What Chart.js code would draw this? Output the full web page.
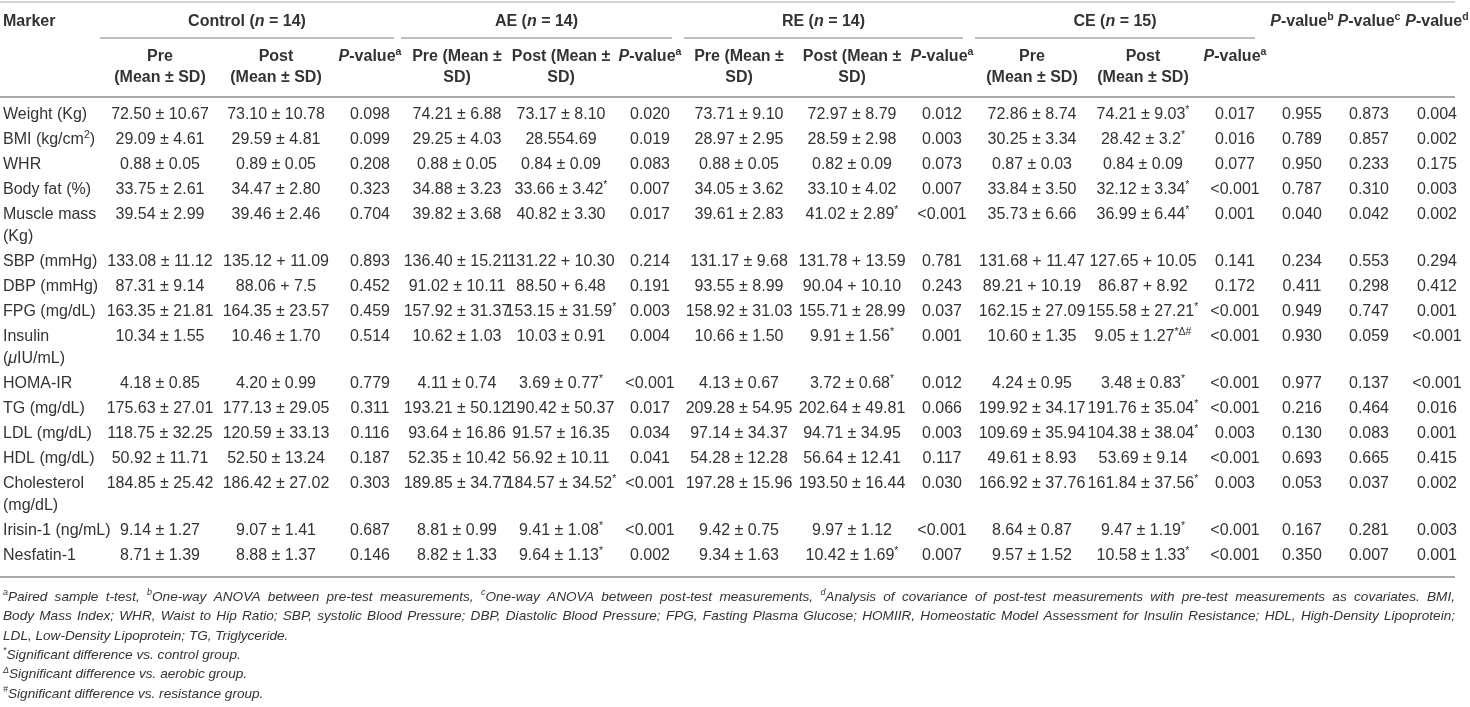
<!DOCTYPE html>
<html>
<head>
<meta charset="utf-8">
<script src="https://cdn.jsdelivr.net/npm/chart.js@4.4.1/dist/chart.umd.min.js"></script>
<style>
  html, body { margin: 0; padding: 0; background: #fff; }
  #wrap { width: 1470px; height: 707px; }
</style>
</head>
<body>
<div id="wrap"><canvas id="tableChart" width="1470" height="707"></canvas></div>
<script>
// ---- table content ----
// "|" breaks a cell into lines, ^{..} is superscript, _{..} is italic
var rowLabels = ['Weight (Kg)', 'BMI (kg/cm^{2})', 'WHR', 'Body fat (%)', 'Muscle mass|(Kg)',
  'SBP (mmHg)', 'DBP (mmHg)', 'FPG (mg/dL)', 'Insulin|(_{\u03bc}IU/mL)', 'HOMA-IR', 'TG (mg/dL)',
  'LDL (mg/dL)', 'HDL (mg/dL)', 'Cholesterol|(mg/dL)', 'Irisin-1 (ng/mL)', 'Nesfatin-1'];

var groupLabels = ['Control (_{n} = 14)', 'AE (_{n} = 14)', 'RE (_{n} = 14)', 'CE (_{n} = 15)'];
var subHeaders = ['Pre|(Mean \u00b1 SD)', 'Post|(Mean \u00b1 SD)', '_{P}-value^{a}',
  'Pre (Mean \u00b1|SD)', 'Post (Mean \u00b1|SD)', '_{P}-value^{a}',
  'Pre (Mean \u00b1|SD)', 'Post (Mean \u00b1|SD)', '_{P}-value^{a}',
  'Pre|(Mean \u00b1 SD)', 'Post|(Mean \u00b1 SD)', '_{P}-value^{a}'];
var testHeaders = ['_{P}-value^{b}', '_{P}-value^{c}', '_{P}-value^{d}'];

var ctrlPre = ['72.50 \u00b1 10.67', '29.09 \u00b1 4.61', '0.88 \u00b1 0.05', '33.75 \u00b1 2.61', '39.54 \u00b1 2.99',
  '133.08 \u00b1 11.12', '87.31 \u00b1 9.14', '163.35 \u00b1 21.81', '10.34 \u00b1 1.55', '4.18 \u00b1 0.85',
  '175.63 \u00b1 27.01', '118.75 \u00b1 32.25', '50.92 \u00b1 11.71', '184.85 \u00b1 25.42', '9.14 \u00b1 1.27', '8.71 \u00b1 1.39'];
var ctrlPost = ['73.10 \u00b1 10.78', '29.59 \u00b1 4.81', '0.89 \u00b1 0.05', '34.47 \u00b1 2.80', '39.46 \u00b1 2.46',
  '135.12 + 11.09', '88.06 + 7.5', '164.35 \u00b1 23.57', '10.46 \u00b1 1.70', '4.20 \u00b1 0.99',
  '177.13 \u00b1 29.05', '120.59 \u00b1 33.13', '52.50 \u00b1 13.24', '186.42 \u00b1 27.02', '9.07 \u00b1 1.41', '8.88 \u00b1 1.37'];
var ctrlP = ['0.098', '0.099', '0.208', '0.323', '0.704', '0.893', '0.452', '0.459', '0.514', '0.779',
  '0.311', '0.116', '0.187', '0.303', '0.687', '0.146'];

var aePre = ['74.21 \u00b1 6.88', '29.25 \u00b1 4.03', '0.88 \u00b1 0.05', '34.88 \u00b1 3.23', '39.82 \u00b1 3.68',
  '136.40 \u00b1 15.21', '91.02 \u00b1 10.11', '157.92 \u00b1 31.37', '10.62 \u00b1 1.03', '4.11 \u00b1 0.74',
  '193.21 \u00b1 50.12', '93.64 \u00b1 16.86', '52.35 \u00b1 10.42', '189.85 \u00b1 34.77', '8.81 \u00b1 0.99', '8.82 \u00b1 1.33'];
var aePost = ['73.17 \u00b1 8.10', '28.554.69', '0.84 \u00b1 0.09', '33.66 \u00b1 3.42*', '40.82 \u00b1 3.30',
  '131.22 + 10.30', '88.50 + 6.48', '153.15 \u00b1 31.59*', '10.03 \u00b1 0.91', '3.69 \u00b1 0.77*',
  '190.42 \u00b1 50.37', '91.57 \u00b1 16.35', '56.92 \u00b1 10.11', '184.57 \u00b1 34.52*', '9.41 \u00b1 1.08*', '9.64 \u00b1 1.13*'];
var aeP = ['0.020', '0.019', '0.083', '0.007', '0.017', '0.214', '0.191', '0.003', '0.004', '<0.001',
  '0.017', '0.034', '0.041', '<0.001', '<0.001', '0.002'];

var rePre = ['73.71 \u00b1 9.10', '28.97 \u00b1 2.95', '0.88 \u00b1 0.05', '34.05 \u00b1 3.62', '39.61 \u00b1 2.83',
  '131.17 \u00b1 9.68', '93.55 \u00b1 8.99', '158.92 \u00b1 31.03', '10.66 \u00b1 1.50', '4.13 \u00b1 0.67',
  '209.28 \u00b1 54.95', '97.14 \u00b1 34.37', '54.28 \u00b1 12.28', '197.28 \u00b1 15.96', '9.42 \u00b1 0.75', '9.34 \u00b1 1.63'];
var rePost = ['72.97 \u00b1 8.79', '28.59 \u00b1 2.98', '0.82 \u00b1 0.09', '33.10 \u00b1 4.02', '41.02 \u00b1 2.89*',
  '131.78 + 13.59', '90.04 + 10.10', '155.71 \u00b1 28.99', '9.91 \u00b1 1.56*', '3.72 \u00b1 0.68*',
  '202.64 \u00b1 49.81', '94.71 \u00b1 34.95', '56.64 \u00b1 12.41', '193.50 \u00b1 16.44', '9.97 \u00b1 1.12', '10.42 \u00b1 1.69*'];
var reP = ['0.012', '0.003', '0.073', '0.007', '<0.001', '0.781', '0.243', '0.037', '0.001', '0.012',
  '0.066', '0.003', '0.117', '0.030', '<0.001', '0.007'];

var cePre = ['72.86 \u00b1 8.74', '30.25 \u00b1 3.34', '0.87 \u00b1 0.03', '33.84 \u00b1 3.50', '35.73 \u00b1 6.66',
  '131.68 + 11.47', '89.21 + 10.19', '162.15 \u00b1 27.09', '10.60 \u00b1 1.35', '4.24 \u00b1 0.95',
  '199.92 \u00b1 34.17', '109.69 \u00b1 35.94', '49.61 \u00b1 8.93', '166.92 \u00b1 37.76', '8.64 \u00b1 0.87', '9.57 \u00b1 1.52'];
var cePost = ['74.21 \u00b1 9.03*', '28.42 \u00b1 3.2*', '0.84 \u00b1 0.09', '32.12 \u00b1 3.34*', '36.99 \u00b1 6.44*',
  '127.65 + 10.05', '86.87 + 8.92', '155.58 \u00b1 27.21*', '9.05 \u00b1 1.27*\u0394#', '3.48 \u00b1 0.83*',
  '191.76 \u00b1 35.04*', '104.38 \u00b1 38.04*', '53.69 \u00b1 9.14', '161.84 \u00b1 37.56*', '9.47 \u00b1 1.19*', '10.58 \u00b1 1.33*'];
var ceP = ['0.017', '0.016', '0.077', '<0.001', '0.001', '0.141', '0.172', '<0.001', '<0.001', '<0.001',
  '<0.001', '0.003', '<0.001', '0.003', '<0.001', '<0.001'];

var pPre = ['0.955', '0.789', '0.950', '0.787', '0.040', '0.234', '0.411', '0.949', '0.930', '0.977',
  '0.216', '0.130', '0.693', '0.053', '0.167', '0.350'];
var pPost = ['0.873', '0.857', '0.233', '0.310', '0.042', '0.553', '0.298', '0.747', '0.059', '0.137',
  '0.464', '0.083', '0.665', '0.037', '0.281', '0.007'];
var pAncova = ['0.004', '0.002', '0.175', '0.003', '0.002', '0.294', '0.412', '0.001', '<0.001', '<0.001',
  '0.016', '0.001', '0.415', '0.002', '0.003', '0.001'];

var footnotes = [
  '^{a}Paired sample t-test, ^{b}One-way ANOVA between pre-test measurements, ^{c}One-way ANOVA between post-test measurements, ^{d}Analysis of covariance of post-test measurements with pre-test measurements as covariates. BMI,',
  'Body Mass Index; WHR, Waist to Hip Ratio; SBP, systolic Blood Pressure; DBP, Diastolic Blood Pressure; FPG, Fasting Plasma Glucose; HOMIIR, Homeostatic Model Assessment for Insulin Resistance; HDL, High-Density Lipoprotein;',
  'LDL, Low-Density Lipoprotein; TG, Triglyceride.',
  '^{*}Significant difference vs. control group.',
  '^{\u0394}Significant difference vs. aerobic group.',
  '^{#}Significant difference vs. resistance group.'
];

var columns = [ctrlPre, ctrlPost, ctrlP, aePre, aePost, aeP, rePre, rePost, reP, cePre, cePost, ceP, pPre, pPost, pAncova];

// ---- layout (pixel units of the hidden linear scales) ----
var FAMILY = '"Liberation Sans", Arial, Helvetica, sans-serif';
var TEXT = '#333333';
var RULE = '#aaaaaa';
var colX = [160, 276, 370, 457, 561, 650, 739, 852, 942, 1032, 1143, 1235, 1302, 1369, 1437];
var groupSpan = [[100, 394], [401, 672], [684, 963], [975, 1255]];
var labelX = 3, tableRight = 1455;
var headY = 22, groupLineY = 38, subY = 57, lineGap = 21, ruleY = 97;
var firstRowY = 115, rowStep = 25, wrapStep = 22;
var footY = 597, footStep = 19.4;

var rowY = [];
(function () {
  var y = firstRowY;
  rowLabels.forEach(function (l) {
    rowY.push(y);
    y += rowStep + (l.split('|').length - 1) * wrapStep;
  });
})();
var bottomRuleY = rowY[rowY.length - 1] + 21;

// ---- rich text helpers ----
function parseRich(s) {
  var out = [];
  s.split(/(\^\{[^}]*\}|_\{[^}]*\})/).forEach(function (p) {
    if (!p) return;
    if (p.indexOf('^{') === 0) out.push({ t: p.slice(2, -1), sup: true });
    else if (p.indexOf('_{') === 0) out.push({ t: p.slice(2, -1), it: true });
    else out.push({ t: p });
  });
  return out;
}
function cellMarkup(v) {
  var m = v.match(/^(.*?)([*\u0394#]+)$/);
  return m ? m[1] + '^{' + m[2] + '}' : v;
}
function segFont(seg, base) {
  var size = seg.sup ? base.size * 0.66 : base.size;
  return ((seg.it || base.italic) ? 'italic ' : '') + (base.bold ? 'bold ' : '') + size + 'px ' + FAMILY;
}
function drawRich(ctx, s, x, y, align, base, justifyTo) {
  var segs = parseRich(s);
  var total = 0, spaces = 0;
  segs.forEach(function (sg) {
    ctx.font = segFont(sg, base);
    sg.w = ctx.measureText(sg.t).width;
    total += sg.w;
    spaces += (sg.t.match(/ /g) || []).length;
  });
  var extra = (justifyTo && spaces) ? (justifyTo - total) / spaces : 0;
  var cx = align === 'center' ? x - total / 2 : x;
  ctx.textBaseline = 'middle';
  ctx.textAlign = 'left';
  segs.forEach(function (sg) {
    ctx.font = segFont(sg, base);
    var yy = sg.sup ? y - base.size * 0.33 : y;
    if (!extra) {
      ctx.fillText(sg.t, cx, yy);
      cx += sg.w;
      return;
    }
    var words = sg.t.split(' ');
    var sw = ctx.measureText(' ').width;
    words.forEach(function (w, i) {
      ctx.fillText(w, cx, yy);
      cx += ctx.measureText(w).width;
      if (i < words.length - 1) cx += sw + extra;
    });
  });
}
function drawLines(ctx, s, x, y, align, base) {
  s.split('|').forEach(function (line, i) {
    drawRich(ctx, line, x, y + i * (base.step || lineGap), align, base);
  });
}

// ---- plugin: writes the cells at the positions of the scatter elements ----
var tablePlugin = {
  id: 'tableText',
  afterDatasetsDraw: function (chart) {
    var ctx = chart.ctx;
    var sx = chart.scales.x, sy = chart.scales.y;
    var px = function (v) { return sx.getPixelForValue(v); };
    var py = function (v) { return sy.getPixelForValue(v); };
    var bold = { size: 16, bold: true };
    var body = { size: 16 };
    ctx.save();

    // rules
    function hline(y, x0, x1, color, w) {
      ctx.beginPath();
      ctx.strokeStyle = color;
      ctx.lineWidth = w;
      ctx.moveTo(px(x0), py(y));
      ctx.lineTo(px(x1), py(y));
      ctx.stroke();
    }
    hline(2, 0, tableRight, '#c4c4c4', 1.5);
    hline(ruleY, 0, tableRight, RULE, 2);
    hline(bottomRuleY, 0, tableRight, RULE, 2);
    groupSpan.forEach(function (g) { hline(groupLineY, g[0], g[1], RULE, 1.5); });

    ctx.fillStyle = TEXT;
    // header rows
    drawRich(ctx, 'Marker', px(labelX), py(headY), 'left', bold);
    groupLabels.forEach(function (g, i) {
      drawRich(ctx, g, px((groupSpan[i][0] + groupSpan[i][1]) / 2), py(headY), 'center', bold);
    });
    testHeaders.forEach(function (h, i) {
      drawRich(ctx, h, px(colX[12 + i]), py(headY), 'center', bold);
    });
    subHeaders.forEach(function (h, i) {
      drawLines(ctx, h, px(colX[i]), py(subY), 'center', bold);
    });

    // body cells
    chart.data.datasets.forEach(function (ds, di) {
      var meta = chart.getDatasetMeta(di);
      meta.data.forEach(function (pt, i) {
        var txt = ds.cellText[i];
        if (ds.isLabel) {
          drawLines(ctx, txt, pt.x, pt.y, 'left', { size: 16, step: wrapStep });
        } else {
          drawRich(ctx, cellMarkup(txt), pt.x, pt.y, 'center', body);
        }
      });
    });

    // notes
    footnotes.forEach(function (f, i) {
      drawRich(ctx, f, px(labelX), py(footY + i * footStep), 'left', { size: 13.6, italic: true },
        i < 2 ? px(tableRight) - px(labelX) : 0);
    });
    ctx.restore();
  }
};

var datasets = [{
  isLabel: true,
  cellText: rowLabels,
  data: rowLabels.map(function (l, i) { return { x: labelX, y: rowY[i] }; }),
  pointRadius: 0
}];
columns.forEach(function (col, c) {
  datasets.push({
    cellText: col,
    data: col.map(function (v, i) { return { x: colX[c], y: rowY[i] }; }),
    pointRadius: 0
  });
});

new Chart(document.getElementById('tableChart'), {
  type: 'scatter',
  data: { datasets: datasets },
  options: {
    responsive: false,
    animation: false,
    events: [],
    layout: { padding: 0 },
    plugins: { legend: { display: false }, tooltip: { enabled: false } },
    scales: {
      x: { type: 'linear', min: 0, max: 1470, display: false },
      y: { type: 'linear', min: 0, max: 707, reverse: true, display: false }
    }
  },
  plugins: [tablePlugin]
});
</script>
</body>
</html>
